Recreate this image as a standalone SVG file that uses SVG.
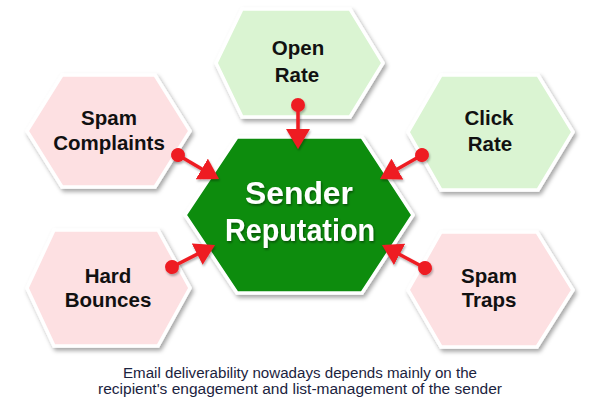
<svg xmlns="http://www.w3.org/2000/svg" width="600" height="403" viewBox="0 0 600 403">
<defs>
<filter id="sh" x="-20%" y="-20%" width="140%" height="150%">
<feDropShadow dx="2" dy="3" stdDeviation="2.2" flood-color="#000" flood-opacity="0.35"/>
</filter>
<filter id="ash" filterUnits="userSpaceOnUse" x="0" y="0" width="600" height="403">
<feDropShadow dx="1" dy="2" stdDeviation="1.2" flood-color="#000" flood-opacity="0.3"/>
</filter>
<filter id="tsh" x="-10%" y="-10%" width="120%" height="130%">
<feDropShadow dx="1" dy="1.5" stdDeviation="1" flood-color="#000" flood-opacity="0.45"/>
</filter>
<marker id="head" markerUnits="userSpaceOnUse" viewBox="0 0 20 24" refX="10" refY="12" markerWidth="20" markerHeight="24" orient="auto">
<path d="M0,0 L20,12 L0,24 Z" fill="#ee1c24"/>
</marker>
<marker id="dot" markerUnits="userSpaceOnUse" viewBox="0 0 16 16" refX="8" refY="8" markerWidth="16" markerHeight="16" orient="auto">
<circle cx="8" cy="8" r="7" fill="#ee1c24"/>
</marker>
</defs>
<style>
.hex{stroke:#fff;stroke-width:3.5;stroke-linejoin:miter;filter:url(#sh)}
.good{fill:#daf4d2}
.bad{fill:#fde0e2}
.core{fill:#0a8c0f}
.lbl{font-family:"Liberation Sans",Arial,sans-serif;font-weight:bold;font-size:20.5px;fill:#111;text-anchor:middle}
.big{font-family:"Liberation Sans",Arial,sans-serif;font-weight:bold;font-size:31px;fill:#fff;text-anchor:middle;filter:url(#tsh)}
.cap{font-family:"Liberation Sans",Arial,sans-serif;font-size:14px;fill:#1b2340;text-anchor:middle}
.arr{stroke:#ee1c24;stroke-width:3.5;fill:none;marker-start:url(#dot);marker-end:url(#head)}
</style>
<rect width="600" height="403" fill="#fff"/>

<g id="open-rate">
<polygon class="hex good" points="242,9 350,9 383,63 350,117 242,117 216,63"/>
<text class="lbl" x="298" y="55">Open</text>
<text class="lbl" x="297" y="82">Rate</text>
</g>

<g id="spam-complaints">
<polygon class="hex bad" points="62,75 155,75 190,131 155,187 62,187 27,131"/>
<text class="lbl" x="109" y="125">Spam</text>
<text class="lbl" x="109" y="150">Complaints</text>
</g>

<g id="click-rate">
<polygon class="hex good" points="441,75 538,75 573,132 538,190 441,190 408,132"/>
<text class="lbl" x="489" y="125">Click</text>
<text class="lbl" x="490" y="151">Rate</text>
</g>

<g id="hard-bounces">
<polygon class="hex bad" points="54,230 158,230 190,288 158,346 54,346 27,288"/>
<text class="lbl" x="108" y="283">Hard</text>
<text class="lbl" x="108" y="307">Bounces</text>
</g>

<g id="spam-traps">
<polygon class="hex bad" points="441,232 537,232 573,290 537,347 441,347 408,290"/>
<text class="lbl" x="489" y="283">Spam</text>
<text class="lbl" x="489" y="307">Traps</text>
</g>

<g id="sender-reputation">
<polygon class="hex core" points="237,137 362,137 413,215 362,293 237,293 185,215"/>
<text class="big" x="299" y="204" textLength="108" lengthAdjust="spacingAndGlyphs">Sender</text>
<text class="big" x="300" y="241" textLength="150" lengthAdjust="spacingAndGlyphs">Reputation</text>
</g>

<g id="connectors" filter="url(#ash)">
<line class="arr" x1="298" y1="105" x2="298" y2="139"/>
<line class="arr" x1="178" y1="155" x2="210.4" y2="174"/>
<line class="arr" x1="422" y1="155" x2="388.7" y2="174"/>
<line class="arr" x1="172" y1="267" x2="206.1" y2="249.6"/>
<line class="arr" x1="425" y1="268" x2="390.8" y2="249.7"/>
</g>

<g id="caption">
<text class="cap" x="300" y="378" textLength="354" lengthAdjust="spacingAndGlyphs">Email deliverability nowadays depends mainly on the</text>
<text class="cap" x="300" y="394" textLength="404" lengthAdjust="spacingAndGlyphs">recipient's engagement and list-management of the sender</text>
</g>
</svg>
